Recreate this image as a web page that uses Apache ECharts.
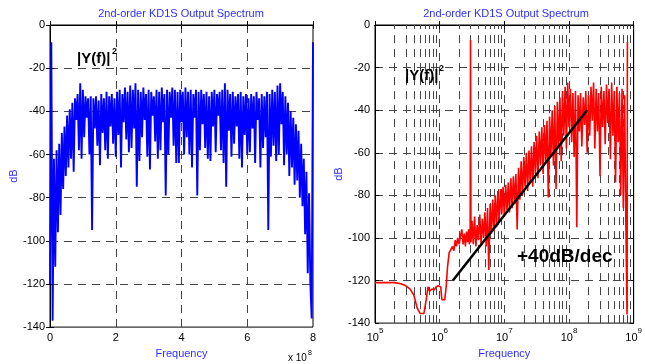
<!DOCTYPE html>
<html><head><meta charset="utf-8">
<script src="https://cdn.jsdelivr.net/npm/echarts@6/dist/echarts.min.js"></script>
<style>html,body{margin:0;padding:0;background:#fff}#c{width:645px;height:364px}</style>
</head><body><div id="c"></div>
<script>
// ---------- data ----------
const titleText = '2nd-order KD1S Output Spectrum';
const yTickLabels = ['-140','-120','-100','-80','-60','-40','-20','0'];
const linTickLabels = ['0','2','4','6','8'];
const logDecades = [5, 6, 7, 8, 9];
const minorMant = [2, 3, 4, 5, 6, 7, 8, 9];

// left panel: linear frequency bins, 4 MHz apart, 0 .. 800 MHz
const leftStepHz = 4e6;
const leftDb = [
-120,-8,-137,-62,-112,-58,-96,-55,-88,-50,
-76,-47,-70,-42,-66,-39,-62,-36,-68,-34,
-44,-32,-58,-27,-62,-30,-52,-33,-43,-34,
-60,-33,-95,-34,-48,-33,-56,-35,-65,-32,
-50,-34,-58,-31,-62,-33,-47,-32,-55,-34,
-61,-31,-51,-30,-66,-32,-45,-29,-53,-31,
-59,-28,-57,-30,-48,-27,-75,-30,-63,-31,
-52,-29,-44,-32,-61,-30,-67,-31,-42,-33,
-54,-30,-62,-31,-58,-29,-45,-32,-79,-30,
-60,-31,-43,-29,-56,-30,-64,-31,-64,-30,
-45,-31,-60,-29,-52,-31,-60,-30,-66,-32,
-43,-30,-79,-31,-58,-30,-46,-32,-57,-31,
-62,-33,-63,-31,-47,-30,-59,-32,-42,-31,
-58,-30,-64,-27,-75,-30,-49,-32,-61,-31,
-55,-33,-47,-32,-62,-31,-66,-33,-51,-32,
-60,-34,-59,-32,-48,-33,-64,-31,-44,-34,
-66,-32,-57,-33,-52,-31,-95,-32,-61,-30,
-56,-31,-63,-28,-60,-27,-46,-31,-65,-33,
-60,-36,-70,-40,-66,-43,-74,-46,-72,-49,
-80,-55,-84,-62,-97,-68,-115,-78,-120,-136,
-8];

// right panel: frequency (MHz) and level (dB)
const rightFreqMHz = [
0.1,0.15,0.2,0.25,0.3,0.35,0.4,0.45,0.5,0.57,
0.62,0.66,0.7,0.76,0.82,0.88,0.95,1.04,1.08,1.2,
1.26,1.32,1.4,1.5,1.58,1.66,1.74,1.82,1.9,2.0,
2.1,2.2,2.3,2.4,2.5,2.6,2.7,2.8,2.88,2.96,
3.0,3.05,
3.16,3.31,3.47,3.63,3.80,3.98,4.17,4.37,4.57,4.79,
5.01,5.25,5.50,5.75,6.03,6.31,6.61,6.92,7.24,7.59,
7.94,8.32,8.71,9.12,9.55,
10.0,10.5,11.0,11.5,12.0,12.6,13.2,13.8,14.5,15.1,
15.8,16.6,17.4,18.2,19.1,20.0,20.9,21.9,22.9,24.0,
25.1,26.3,27.5,28.8,30.2,31.6,33.1,34.7,36.3,38.0,
39.8,41.7,43.7,45.7,47.9,50.1,52.5,55.0,57.5,60.3,
63.1,66.1,69.2,72.4,75.9,79.4,83.2,87.1,91.2,95.5,
100,105,110,115,120,126,132,138,145,151,
158,166,174,182,191,200,209,219,229,240,
251,263,275,288,302,316,331,347,363,380,
398,417,437,457,479,501,525,550,575,603,
631,661,692,724,759,
790,800];
const rightDb = [
-121,-121,-121,-121.5,-122.5,-124,-127,-133,-135.5,-135.5,
-129,-123,-125,-124,-124.5,-123,-122.5,-123,-129,-129,
-123,-114,-107,-107,-104,-106,-101,-104,-100,-103,
-99,-96,-103,-98,-104,-97,-102,-96,-103,-100,
-7,-102,
-92,-103,-90,-104,-94,-101,-89,-103,-91,-100,
-88,-104,-86,-115,-84,-98,-82,-97,-80,-95,
-78,-92,-77,-89,-76,
-90,-75,-87,-74,-88,-72,-86,-71,-84,-70,
-96,-67,-82,-64,-80,-62,-76,-60,-78,-59,
-74,-57,-76,-55,-70,-52,-72,-50,-66,-48,
-70,-47,-64,-45,-81,-43,-62,-40,-66,-38,
-77,-36,-58,-34,-64,-31,-52,-29,-58,-27,
-48,-30,-55,-32,-62,-31,-95,-33,-50,-32,
-57,-34,-47,-31,-60,-33,-52,-29,-45,-27,
-58,-30,-50,-32,-71,-29,-48,-31,-56,-28,
-46,-30,-63,-27,-52,-31,-74,-29,-55,-32,
-80,-30,-86,-33,-95,
-136,-8];

// +40 dB/dec guide line
const slopeFreqHz = [1.6e6, 1.9e8];
const slopeDb = [-120, -40];

// ---------- chart ----------
const blue = '#3030ff';
const gridCol = '#444';
const dash = [8, 6];
const font = '"Liberation Sans", Arial, Helvetica, sans-serif';

const leftPts = leftDb.map((v, i) => [i * leftStepHz, v]);
const rightPts = rightDb.map((v, i) => [rightFreqMHz[i] * 1e6, v]);
const slopePts = slopeDb.map((v, i) => [slopeFreqHz[i], v]);
const minorGrid = [];
logDecades.slice(0, -1).forEach(d => minorMant.forEach(m => minorGrid.push(m * Math.pow(10, d))));

const axLine = {show: true, lineStyle: {color: '#000', width: 1}};
const tick = {show: true, inside: true, length: 4, lineStyle: {color: '#000'}};
const split = {show: true, showMinLine: false, showMaxLine: false, lineStyle: {color: gridCol, type: dash, width: 1}};

function yAxes(gi, nameGap) {
  return [
    {gridIndex: gi, type: 'value', min: -140, max: 0, interval: 20, position: 'left',
     axisLine: axLine, axisTick: tick,
     axisLabel: {color: '#000', fontSize: 11, margin: 5, fontFamily: font,
                 formatter: v => yTickLabels[Math.round((v + 140) / 20)]},
     splitLine: split,
     name: 'dB', nameLocation: 'middle', nameGap: nameGap,
     nameTextStyle: {color: blue, fontSize: 11, fontFamily: font}},
    {gridIndex: gi, type: 'value', min: -140, max: 0, interval: 20, position: 'right',
     axisLine: axLine, axisTick: tick, axisLabel: {show: false}, splitLine: {show: false}}
  ];
}

const option = {
  animation: false,
  backgroundColor: '#fff',
  textStyle: {fontFamily: font},
  grid: [
    {left: 50, top: 25, width: 263, height: 307, show: true, borderColor: '#000', borderWidth: 1, backgroundColor: 'transparent'},
    {left: 375, top: 25, width: 262, height: 307, show: true, borderColor: '#000', borderWidth: 1, backgroundColor: 'transparent'}
  ],
  xAxis: [
    {gridIndex: 0, type: 'value', min: 0, max: 8e8, interval: 2e8, position: 'bottom',
     axisLine: axLine, axisTick: tick,
     axisLabel: {color: '#000', fontSize: 11, margin: 5, fontFamily: font,
                 formatter: v => linTickLabels[Math.round(v / 2e8)]},
     splitLine: split,
     name: 'Frequency', nameLocation: 'middle', nameGap: 16,
     nameTextStyle: {color: blue, fontSize: 11, fontFamily: font}},
    {gridIndex: 0, type: 'value', min: 0, max: 8e8, interval: 2e8, position: 'top',
     axisLine: axLine, axisTick: tick, axisLabel: {show: false}, splitLine: {show: false}},
    {gridIndex: 1, type: 'log', logBase: 10, min: 1e5, max: 1e9, position: 'bottom',
     axisLine: axLine, axisTick: tick,
     axisLabel: {color: '#000', margin: 4, fontFamily: font,
                 formatter: v => '{a|10}{b|' + Math.round(Math.log10(v)) + '}',
                 rich: {a: {fontSize: 11, color: '#000', fontFamily: font, verticalAlign: 'bottom', lineHeight: 16},
                        b: {fontSize: 8, color: '#000', fontFamily: font, verticalAlign: 'top', lineHeight: 16}}},
     splitLine: split,
     name: 'Frequency', nameLocation: 'middle', nameGap: 20,
     nameTextStyle: {color: blue, fontSize: 11, fontFamily: font}},
    {gridIndex: 1, type: 'log', logBase: 10, min: 1e5, max: 1e9, position: 'top',
     axisLine: axLine, axisTick: tick, axisLabel: {show: false}, splitLine: {show: false}}
  ],
  yAxis: [...yAxes(0, 31), ...yAxes(1, 28)],
  series: [
    {type: 'line', xAxisIndex: 0, yAxisIndex: 0, data: leftPts, showSymbol: false, symbol: 'none',
     lineStyle: {color: '#0000ff', width: 1.9}, z: 3, silent: true},
    {type: 'line', xAxisIndex: 2, yAxisIndex: 2, data: rightPts, showSymbol: false, symbol: 'none',
     lineStyle: {color: '#ff0000', width: 1.6}, z: 3, silent: true},
    {type: 'line', xAxisIndex: 2, yAxisIndex: 2, data: slopePts, showSymbol: false, symbol: 'none',
     lineStyle: {color: '#000', width: 2.5}, z: 4, silent: true,
     markLine: {silent: true, z: 1, symbol: ['none', 'none'], label: {show: false},
                lineStyle: {color: gridCol, type: dash, width: 1},
                emphasis: {disabled: true},
                data: minorGrid.map(v => ({xAxis: v}))}}
  ],
  graphic: [
    {type: 'text', x: 181, y: 14, style: {text: titleText, fill: blue, font: '11px ' + font, align: 'center', verticalAlign: 'middle'}},
    {type: 'text', x: 506, y: 14, style: {text: titleText, fill: blue, font: '11px ' + font, align: 'center', verticalAlign: 'middle'}},
    {type: 'text', x: 77, y: 59, z: 10, style: {text: '|Y(f)|', fill: '#000', font: 'bold 15px ' + font, verticalAlign: 'middle'}},
    {type: 'text', x: 112, y: 52, z: 10, style: {text: '2', fill: '#000', font: 'bold 9px ' + font, verticalAlign: 'middle'}},
    {type: 'text', x: 405, y: 76, z: 10, style: {text: '|Y(f)|', fill: '#000', font: 'bold 15px ' + font, verticalAlign: 'middle'}},
    {type: 'text', x: 439, y: 69, z: 10, style: {text: '2', fill: '#000', font: 'bold 9px ' + font, verticalAlign: 'middle'}},
    {type: 'text', x: 517, y: 257, z: 10, style: {text: '+40dB/dec', fill: '#000', font: 'bold 19px ' + font, verticalAlign: 'middle'}},
    {type: 'text', x: 288, y: 358, style: {text: 'x 10', fill: '#000', font: '10px ' + font, verticalAlign: 'middle'}},
    {type: 'text', x: 308, y: 353, style: {text: '8', fill: '#000', font: '7px ' + font, verticalAlign: 'middle'}}
  ]
};
const chart = echarts.init(document.getElementById('c'));
chart.setOption(option);
</script>
</body></html>
